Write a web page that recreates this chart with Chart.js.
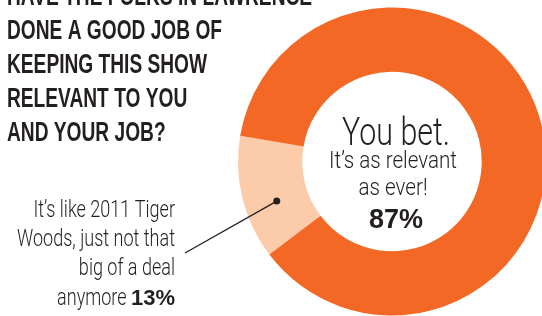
<!DOCTYPE html>
<html>
<head>
<meta charset="utf-8">
<script src="https://cdn.jsdelivr.net/npm/chart.js@4.4.1/dist/chart.umd.min.js"></script>
<style>
    html, body { margin: 0; padding: 0; background: #ffffff; overflow: hidden; }
    #wrap { position: relative; width: 550px; height: 316px; }
</style>
</head>
<body>
<div id="wrap"><canvas id="pollChart" width="550" height="316"></canvas></div>
<script>
// Survey answers
const answers = ['It\u2019s like 2011 Tiger Woods, just not that big of a deal anymore', 'You bet. It\u2019s as relevant as ever!'];
const shares = [13, 87];
const sliceColors = ['#fccbaa', '#f26824'];

const titleLines = ['HAVE THE FOLKS IN LAWRENCE', 'DONE A GOOD JOB OF', 'KEEPING THIS SHOW', 'RELEVANT TO YOU', 'AND YOUR JOB?'];
const noLines = ['It\u2019s like 2011 Tiger', 'Woods, just not that', 'big of a deal', 'anymore'];
const yesHead = 'You bet.';
const yesLines = ['It\u2019s as relevant', 'as ever!'];

const ink = '#231f20';
const sans = '"Liberation Sans", Arial, sans-serif';
const light = '300 {s}px Roboto, "Liberation Sans", sans-serif';

// squeeze text horizontally so a block fits the width of the printed one
function squeezed(ctx, text, x, y, sx) {
    ctx.save();
    ctx.translate(x, y);
    ctx.scale(sx, 1);
    ctx.fillText(text, 0, 0);
    ctx.restore();
}

const labelPlugin = {
    id: 'labels',
    afterDraw(chart) {
        const ctx = chart.ctx;
        ctx.save();
        ctx.fillStyle = ink;
        ctx.textBaseline = 'alphabetic';

        // headline
        ctx.font = 'bold 27px ' + sans;
        ctx.textAlign = 'left';
        const ts = 215 / ctx.measureText(titleLines[1]).width;
        titleLines.forEach((line, i) => squeezed(ctx, line, 7, 5 + i * 34, ts));

        // small slice label, right aligned
        ctx.textAlign = 'right';
        const rightX = 175;
        const base = [217, 246, 275, 305];
        ctx.font = light.replace('{s}', 23);
        const ls = 158 / ctx.measureText(noLines[1]).width;
        for (let i = 0; i < 3; i++) squeezed(ctx, noLines[i], rightX, base[i], ls);
        ctx.font = 'bold 22px ' + sans;
        const pct = shares[0] + '%';
        const pw = ctx.measureText(pct).width;
        ctx.fillText(pct, rightX, base[3]);
        ctx.font = light.replace('{s}', 23);
        squeezed(ctx, noLines[3] + ' ', rightX - pw, base[3], ls);

        // centre label
        const arc = chart.getDatasetMeta(0).data[0];
        const cx = arc.x + 1;
        ctx.textAlign = 'center';
        ctx.font = light.replace('{s}', 39);
        squeezed(ctx, yesHead, cx + 3, 145, 108 / ctx.measureText(yesHead).width);
        ctx.font = light.replace('{s}', 23);
        const cs = 128 / ctx.measureText(yesLines[0]).width;
        squeezed(ctx, yesLines[0], cx, 168, cs);
        squeezed(ctx, yesLines[1], cx, 195, cs);
        ctx.font = 'bold 27px ' + sans;
        ctx.fillText(shares[1] + '%', cx + 3, 228);

        // pointer from the small slice
        const ang = arc.startAngle + 0.39 * (arc.endAngle - arc.startAngle);
        const rr = (arc.innerRadius + arc.outerRadius) / 2;
        const dx = arc.x + Math.cos(ang) * rr;
        const dy = arc.y + Math.sin(ang) * rr;
        ctx.strokeStyle = ink;
        ctx.lineWidth = 1.3;
        ctx.beginPath();
        ctx.moveTo(dx, dy);
        ctx.lineTo(185, 253);
        ctx.stroke();
        ctx.beginPath();
        ctx.arc(dx, dy, 3.5, 0, Math.PI * 2);
        ctx.fill();
        ctx.restore();
    }
};

new Chart(document.getElementById('pollChart'), {
    type: 'doughnut',
    data: {
        labels: answers,
        datasets: [{
            data: shares,
            backgroundColor: sliceColors,
            borderWidth: 0,
            radius: 154,
            cutout: 90
        }]
    },
    options: {
        responsive: false,
        animation: false,
        rotation: 232.8,
        layout: { padding: { left: 234, top: 7, right: 0, bottom: 0 } },
        plugins: {
            legend: { display: false },
            tooltip: { enabled: false }
        }
    },
    plugins: [labelPlugin]
});
</script>
</body>
</html>
